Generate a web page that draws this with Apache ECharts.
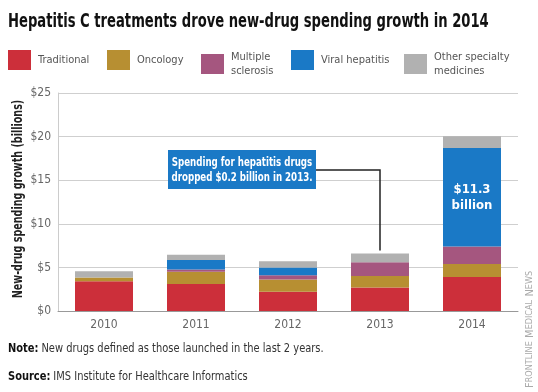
<!DOCTYPE html>
<html>
<head>
<meta charset="utf-8">
<script src="https://cdn.jsdelivr.net/npm/echarts@6/dist/echarts.min.js"></script>
<style>
html,body{margin:0;padding:0;background:#fff;}
#chart{width:538px;height:392px;}
</style>
</head>
<body>
<div id="chart"></div>
<script>
const categories = ['2010', '2011', '2012', '2013', '2014'];
const traditional = [3.4, 3.1, 2.2, 2.7, 3.9];
const oncology = [0.45, 1.4, 1.4, 1.3, 1.5];
const multipleSclerosis = [0, 0.25, 0.5, 1.6, 2.0];
const viralHepatitis = [0, 1.1, 0.9, -0.2, 11.3];
const otherSpecialty = [0.7, 0.6, 0.7, 1.0, 1.35];
const seriesNames = ['Traditional', 'Oncology', 'Multiple sclerosis', 'Viral hepatitis', 'Other specialty medicines'];
const legendLabels = ['Traditional', 'Oncology', 'Multiple\nsclerosis', 'Viral hepatitis', 'Other specialty\nmedicines'];
const yMin = 0, yMax = 25, yStep = 5;
const titleText = 'Hepatitis C treatments drove new-drug spending growth in 2014';
const yAxisTitle = 'New-drug spending growth (billions)';
const annotationLines = ['Spending for hepatitis drugs', 'dropped $0.2 billion in 2013.'];
const barLabel2014 = '$11.3\nbillion';
const noteText = 'New drugs defined as those launched in the last 2 years.';
const sourceText = 'IMS Institute for Healthcare Informatics';

const FONT = "'DejaVu Sans Condensed', 'Liberation Sans Narrow', sans-serif";
const colors = ['#cc2f3a', '#b78f32', '#a5567f', '#1a79c6', '#b1b1b1'];
const seriesData = [traditional, oncology, multipleSclerosis, viralHepatitis, otherSpecialty];
const legendLeft = [8, 107, 201, 291, 404];

const chart = echarts.init(document.getElementById('chart'), null, {renderer: 'canvas'});

const legends = seriesNames.map((n, i) => ({
  data: [n],
  left: legendLeft[i],
  top: 50,
  padding: 0,
  icon: 'rect',
  itemWidth: 23,
  itemHeight: 20,
  selectedMode: false,
  formatter: () => legendLabels[i],
  textStyle: {fontFamily: FONT, fontSize: 11, color: '#555', lineHeight: 14, padding: [0,0,0,2]}
}));

const series = seriesNames.map((n, i) => ({
  name: n,
  type: 'bar',
  stack: 'total',
  barWidth: 58,
  itemStyle: {color: colors[i]},
  emphasis: {disabled: true},
  data: seriesData[i].map((v, j) => {
    if (i === 3 && j === 4) {
      return {value: v, label: {show: true, position: 'inside', formatter: barLabel2014,
        color: '#fff', fontFamily: FONT, fontWeight: 'bold', fontSize: 13, lineHeight: 16}};
    }
    return v;
  })
}));

chart.setOption({
  animation: false,
  color: colors,
  legend: legends,
  grid: {left: 58, right: 20, top: 93, bottom: 81},
  xAxis: {
    type: 'category',
    data: categories,
    axisLine: {lineStyle: {color: '#999'}},
    axisTick: {show: false},
    axisLabel: {fontFamily: FONT, fontSize: 12, color: '#666', margin: 8}
  },
  yAxis: {
    type: 'value',
    min: yMin, max: yMax, interval: yStep,
    axisLine: {show: true, lineStyle: {color: '#ccc'}},
    axisTick: {show: false},
    axisLabel: {fontFamily: FONT, fontSize: 12, color: '#666', margin: 7, formatter: v => '$' + v},
    splitLine: {lineStyle: {color: '#cfcfcf'}}
  },
  series: series
});

// annotation anchored to 2013 bar
const total2013 = seriesData.reduce((s, arr) => s + Math.max(0, arr[3]), 0);
const anchor = chart.convertToPixel({gridIndex: 0}, ['2013', total2013 + 0.35]);
const boxX = 168, boxY = 150, boxW = 148, boxH = 39;
const lineY = boxY + 20;

chart.setOption({
  graphic: [
    {type: 'text', x: 8, y: 22, scaleX: 0.73, z: 100,
      style: {text: titleText, fill: '#111', font: "bold 20px " + FONT, verticalAlign: 'middle'}},
    {type: 'text', x: 18, y: 199, rotation: Math.PI / 2, scaleX: 0.76, z: 100,
      style: {text: yAxisTitle, fill: '#222', font: "bold 14px " + FONT, align: 'center', verticalAlign: 'middle'}},
    {type: 'rect', shape: {x: boxX, y: boxY, width: boxW, height: boxH}, style: {fill: '#1a79c6'}, z: 100},
    {type: 'text', x: boxX + boxW / 2, y: boxY + boxH / 2 + 1, scaleX: 0.74, z: 101,
      style: {text: annotationLines.join('\n'), fill: '#fff', font: "bold 13px " + FONT,
        align: 'center', verticalAlign: 'middle', lineHeight: 15}},
    {type: 'polyline', z: 99, shape: {points: [[boxX + boxW, lineY], [anchor[0], lineY], [anchor[0], anchor[1]]]},
      style: {stroke: '#222', lineWidth: 1.5, fill: null}},
    {type: 'text', x: 8, y: 349, scaleX: 0.88, z: 100,
      style: {text: '{b|Note:} {n|' + noteText + '}', verticalAlign: 'middle',
        rich: {b: {fontFamily: FONT, fontWeight: 'bold', fontSize: 12.5, fill: '#111'}, n: {fontFamily: FONT, fontSize: 12.5, fill: '#333'}}}},
    {type: 'text', x: 8, y: 377, scaleX: 0.88, z: 100,
      style: {text: '{b|Source:} {n|' + sourceText + '}', verticalAlign: 'middle',
        rich: {b: {fontFamily: FONT, fontWeight: 'bold', fontSize: 12.5, fill: '#111'}, n: {fontFamily: FONT, fontSize: 12.5, fill: '#333'}}}},
    {type: 'text', x: 524, y: 388, rotation: Math.PI / 2, z: 100,
      style: {text: '{a|F}{b|RONTLINE} {a|M}{b|EDICAL} {a|N}{b|EWS}',
        rich: {a: {fontFamily: FONT, fontSize: 11, fill: '#aaa'}, b: {fontFamily: FONT, fontSize: 9, fill: '#aaa'}}}}
  ]
});
</script>
</body>
</html>
